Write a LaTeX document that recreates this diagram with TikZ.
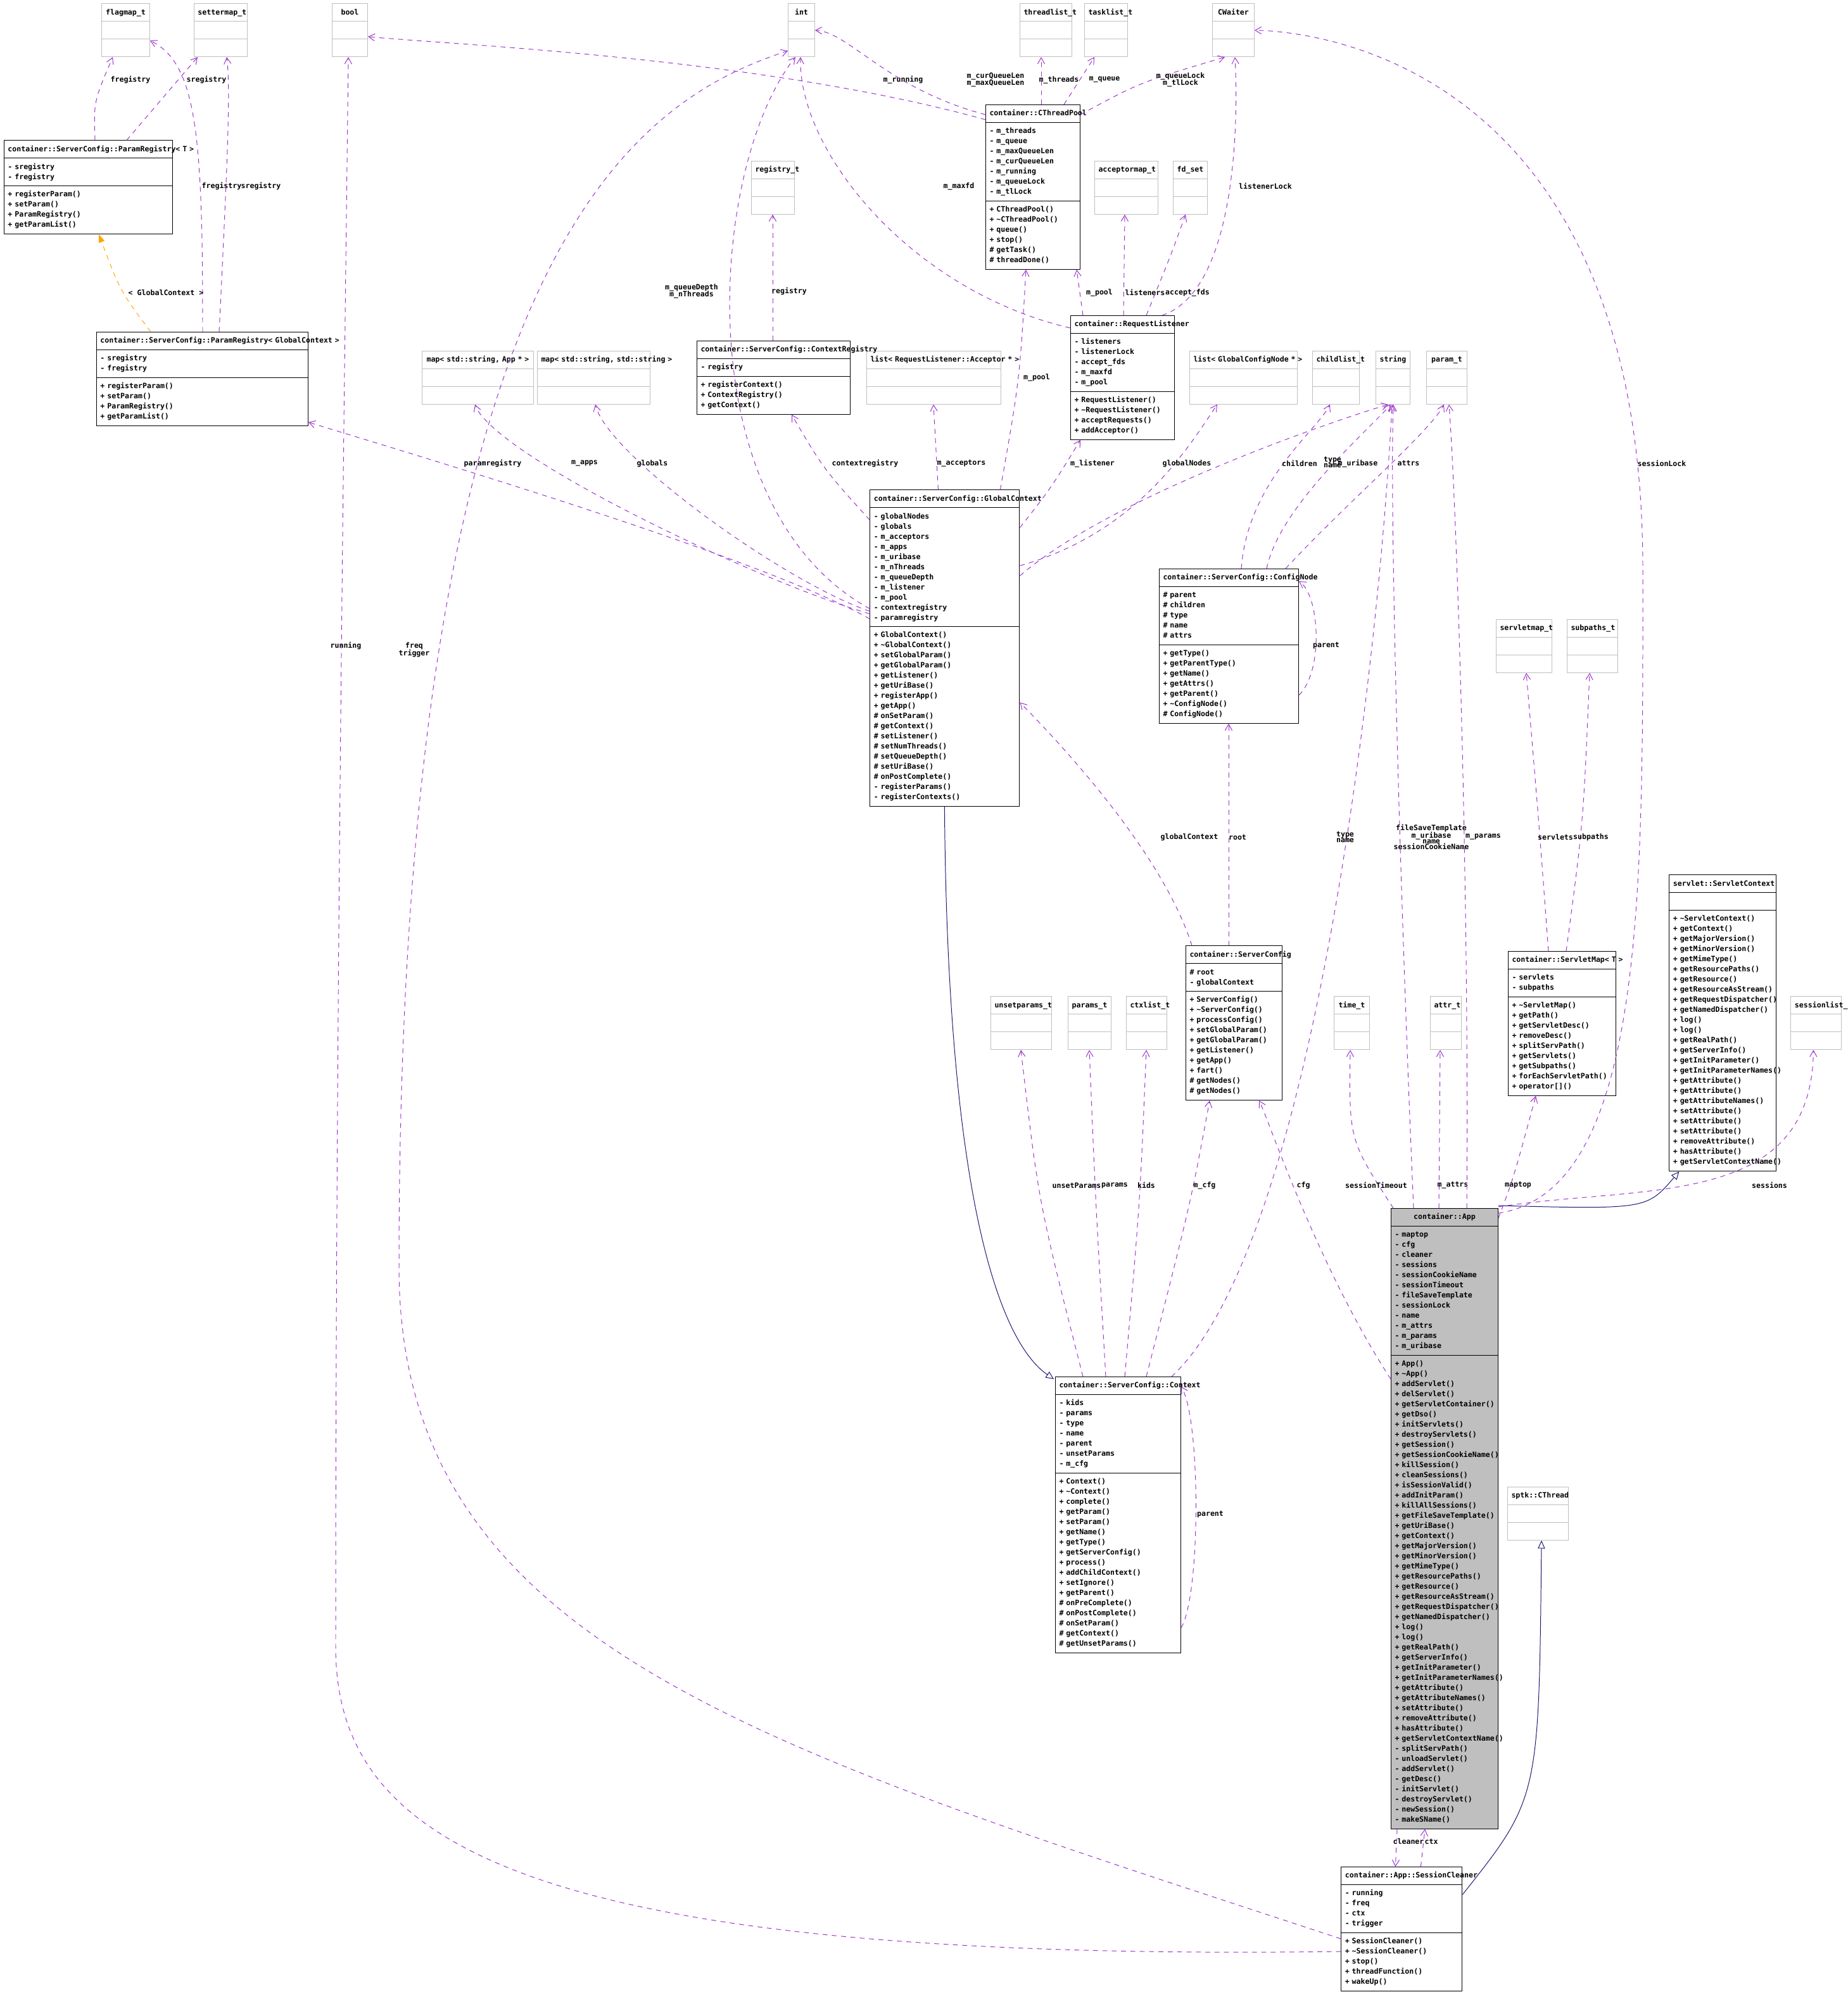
\documentclass[tikz,border=0pt]{standalone}
\usepackage{fontspec}
\setmonofont{DejaVu Sans Mono}
\usetikzlibrary{shapes.multipart,arrows.meta,calc}
\definecolor{usecol}{HTML}{9A32CD}
\definecolor{inhcol}{HTML}{191970}
\definecolor{tplcol}{HTML}{FFA500}
\definecolor{typecol}{HTML}{BFBFBF}
\hbadness=10000 \hfuzz=200pt
% font and line struts for the class boxes
\newcommand{\cfont}{\fontsize{8.24}{0}\selectfont\ttfamily\bfseries\baselineskip=0pt\lineskip=0pt\lineskiplimit=0pt}
\newcommand{\cstrut}{\rule[-3.4pt]{0pt}{11.38pt}}
\newcommand{\ctitle}[1]{{\centering\mbox{\cstrut#1}\par}}
\newcommand{\mem}[1]{\mbox{\cstrut#1}\par}
\newcommand{\tl}{\textasciitilde}
\tikzset{
  classbox/.style={rectangle split, rectangle split parts=3, draw=black, line width=0.7pt,
    inner xsep=0.15cm, inner ysep=3.9pt, anchor=north west, font=\cfont},
  typebox/.style={draw=typecol},
  use/.style={draw=usecol, line width=0.7pt, dash pattern=on 5.5pt off 5pt,
    -{Straight Barb[length=7pt,width=8pt]}},
  inherit/.style={draw=inhcol, line width=0.7pt, -{Triangle[open,length=9pt,width=8pt,fill=white]}},
  tmpl/.style={draw=tplcol, line width=0.7pt, dash pattern=on 5.5pt off 5pt,
    -{Triangle[length=9pt,width=7pt]}},
  lbl/.style={font=\cfont, inner sep=0pt, align=center}
}
% class box: [opts]{name}{x}{y}{width}{title}{attributes}{operations}
\newcommand{\umlclass}[8][]{%
  \pgfmathsetlengthmacro\tw{(#5-6)*0.05cm}%
  \node[classbox,#1,text width=\tw] (#2) at (#3,#4) {\ctitle{#6}\nodepart{two}#7\nodepart{three}#8};}
\newcommand{\typeclass}[5]{\umlclass[typebox]{#1}{#2}{#3}{#4}{#5}{\mem{}}{\mem{}}}

\begin{document}
\begin{tikzpicture}[x=0.05cm, y=-0.05cm]
\useasboundingbox (0,0) rectangle (1458.5,1573);

% plain types
\typeclass{flagmap}{80}{2.7}{38}{flagmap\_t}
\typeclass{settermap}{153}{2.7}{42}{settermap\_t}
\typeclass{boolT}{262}{2.7}{28}{bool}
\typeclass{intT}{622}{2.7}{21}{int}
\typeclass{threadlist}{805}{2.7}{41}{threadlist\_t}
\typeclass{tasklist}{856}{2.7}{34}{tasklist\_t}
\typeclass{cwaiter}{957}{2.7}{33}{CWaiter}
\typeclass{registryT}{593}{127}{34}{registry\_t}
\typeclass{acceptormap}{864}{127}{50}{acceptormap\_t}
\typeclass{fdset}{926}{127}{27}{fd\_set}
\typeclass{mapapps}{333}{277}{88}{map< std::string, App * >}
\typeclass{mapglobals}{424}{277}{89}{map< std::string, std::string >}
\typeclass{acclist}{684}{277}{106}{list< RequestListener::Acceptor * >}
\typeclass{nodelist}{939}{277}{85}{list< GlobalConfigNode * >}
\typeclass{childlist}{1036}{277}{37}{childlist\_t}
\typeclass{stringT}{1086}{277}{27}{string}
\typeclass{paramT}{1126}{277}{32}{param\_t}
\typeclass{servletmapT}{1181}{489}{44}{servletmap\_t}
\typeclass{subpathsT}{1237}{489}{40}{subpaths\_t}
\typeclass{unsetp}{782}{786.7}{48}{unsetparams\_t}
\typeclass{paramsT}{843}{786.7}{34}{params\_t}
\typeclass{ctxlist}{889}{786.7}{32}{ctxlist\_t}
\typeclass{timeT}{1053}{786.7}{28}{time\_t}
\typeclass{attrT}{1129}{786.7}{24.5}{attr\_t}
\typeclass{sesslist}{1413.7}{786.7}{40}{sessionlist\_t}
\typeclass{cthread}{1190}{1174}{48}{sptk::CThread}

% classes
\umlclass{prT}{3}{110.7}{133}{container::ServerConfig::ParamRegistry< T >}
  {\mem{- sregistry}\mem{- fregistry}}
  {\mem{+ registerParam()}\mem{+ setParam()}\mem{+ ParamRegistry()}\mem{+ getParamList()}}
\umlclass{prGC}{76}{262}{167}{container::ServerConfig::ParamRegistry< GlobalContext >}
  {\mem{- sregistry}\mem{- fregistry}}
  {\mem{+ registerParam()}\mem{+ setParam()}\mem{+ ParamRegistry()}\mem{+ getParamList()}}
\umlclass{pool}{778}{82.5}{74.5}{container::CThreadPool}
  {\mem{- m\_threads}\mem{- m\_queue}\mem{- m\_maxQueueLen}\mem{- m\_curQueueLen}\mem{- m\_running}\mem{- m\_queueLock}\mem{- m\_tlLock}}
  {\mem{+ CThreadPool()}\mem{+ \tl CThreadPool()}\mem{+ queue()}\mem{+ stop()}\mem{\# getTask()}\mem{\# threadDone()}}
\umlclass{listener}{845}{249}{82}{container::RequestListener}
  {\mem{- listeners}\mem{- listenerLock}\mem{- accept\_fds}\mem{- m\_maxfd}\mem{- m\_pool}}
  {\mem{+ RequestListener()}\mem{+ \tl RequestListener()}\mem{+ acceptRequests()}\mem{+ addAcceptor()}}
\umlclass{ctxreg}{550}{269}{121}{container::ServerConfig::ContextRegistry}
  {\mem{- registry}}
  {\mem{+ registerContext()}\mem{+ ContextRegistry()}\mem{+ getContext()}}
\umlclass{gctx}{686.7}{386.7}{118}{container::ServerConfig::GlobalContext}
  {\mem{- globalNodes}\mem{- globals}\mem{- m\_acceptors}\mem{- m\_apps}\mem{- m\_uribase}\mem{- m\_nThreads}\mem{- m\_queueDepth}\mem{- m\_listener}\mem{- m\_pool}\mem{- contextregistry}\mem{- paramregistry}}
  {\mem{+ GlobalContext()}\mem{+ \tl GlobalContext()}\mem{+ setGlobalParam()}\mem{+ getGlobalParam()}\mem{+ getListener()}\mem{+ getUriBase()}\mem{+ registerApp()}\mem{+ getApp()}\mem{\# onSetParam()}\mem{\# getContext()}\mem{\# setListener()}\mem{\# setNumThreads()}\mem{\# setQueueDepth()}\mem{\# setUriBase()}\mem{\# onPostComplete()}\mem{- registerParams()}\mem{- registerContexts()}}
\umlclass{cfgnode}{915}{449}{110}{container::ServerConfig::ConfigNode}
  {\mem{\# parent}\mem{\# children}\mem{\# type}\mem{\# name}\mem{\# attrs}}
  {\mem{+ getType()}\mem{+ getParentType()}\mem{+ getName()}\mem{+ getAttrs()}\mem{+ getParent()}\mem{+ \tl ConfigNode()}\mem{\# ConfigNode()}}
\umlclass{svctx}{1317.7}{690.7}{84.5}{servlet::ServletContext}
  {\mem{}}
  {\mem{+ \tl ServletContext()}\mem{+ getContext()}\mem{+ getMajorVersion()}\mem{+ getMinorVersion()}\mem{+ getMimeType()}\mem{+ getResourcePaths()}\mem{+ getResource()}\mem{+ getResourceAsStream()}\mem{+ getRequestDispatcher()}\mem{+ getNamedDispatcher()}\mem{+ log()}\mem{+ log()}\mem{+ getRealPath()}\mem{+ getServerInfo()}\mem{+ getInitParameter()}\mem{+ getInitParameterNames()}\mem{+ getAttribute()}\mem{+ getAttribute()}\mem{+ getAttributeNames()}\mem{+ setAttribute()}\mem{+ setAttribute()}\mem{+ setAttribute()}\mem{+ removeAttribute()}\mem{+ hasAttribute()}\mem{+ getServletContextName()}}
\umlclass{srvcfg}{936}{746.7}{76}{container::ServerConfig}
  {\mem{\# root}\mem{- globalContext}}
  {\mem{+ ServerConfig()}\mem{+ \tl ServerConfig()}\mem{+ processConfig()}\mem{+ setGlobalParam()}\mem{+ getGlobalParam()}\mem{+ getListener()}\mem{+ getApp()}\mem{+ fart()}\mem{\# getNodes()}\mem{\# getNodes()}}
\umlclass{svmap}{1190.5}{751}{85}{container::ServletMap< T >}
  {\mem{- servlets}\mem{- subpaths}}
  {\mem{+ \tl ServletMap()}\mem{+ getPath()}\mem{+ getServletDesc()}\mem{+ removeDesc()}\mem{+ splitServPath()}\mem{+ getServlets()}\mem{+ getSubpaths()}\mem{+ forEachServletPath()}\mem{+ operator[]()}}
\umlclass[fill=black!25]{app}{1098}{954}{84.5}{container::App}
  {\mem{- maptop}\mem{- cfg}\mem{- cleaner}\mem{- sessions}\mem{- sessionCookieName}\mem{- sessionTimeout}\mem{- fileSaveTemplate}\mem{- sessionLock}\mem{- name}\mem{- m\_attrs}\mem{- m\_params}\mem{- m\_uribase}}
  {\mem{+ App()}\mem{+ \tl App()}\mem{+ addServlet()}\mem{+ delServlet()}\mem{+ getServletContainer()}\mem{+ getDso()}\mem{+ initServlets()}\mem{+ destroyServlets()}\mem{+ getSession()}\mem{+ getSessionCookieName()}\mem{+ killSession()}\mem{+ cleanSessions()}\mem{+ isSessionValid()}\mem{+ addInitParam()}\mem{+ killAllSessions()}\mem{+ getFileSaveTemplate()}\mem{+ getUriBase()}\mem{+ getContext()}\mem{+ getMajorVersion()}\mem{+ getMinorVersion()}\mem{+ getMimeType()}\mem{+ getResourcePaths()}\mem{+ getResource()}\mem{+ getResourceAsStream()}\mem{+ getRequestDispatcher()}\mem{+ getNamedDispatcher()}\mem{+ log()}\mem{+ log()}\mem{+ getRealPath()}\mem{+ getServerInfo()}\mem{+ getInitParameter()}\mem{+ getInitParameterNames()}\mem{+ getAttribute()}\mem{+ getAttributeNames()}\mem{+ setAttribute()}\mem{+ removeAttribute()}\mem{+ hasAttribute()}\mem{+ getServletContextName()}\mem{- splitServPath()}\mem{- unloadServlet()}\mem{- addServlet()}\mem{- getDesc()}\mem{- initServlet()}\mem{- destroyServlet()}\mem{- newSession()}\mem{- makeSName()}}
\umlclass{ctx}{833}{1087}{99}{container::ServerConfig::Context}
  {\mem{- kids}\mem{- params}\mem{- type}\mem{- name}\mem{- parent}\mem{- unsetParams}\mem{- m\_cfg}}
  {\mem{+ Context()}\mem{+ \tl Context()}\mem{+ complete()}\mem{+ getParam()}\mem{+ setParam()}\mem{+ getName()}\mem{+ getType()}\mem{+ getServerConfig()}\mem{+ process()}\mem{+ addChildContext()}\mem{+ setIgnore()}\mem{+ getParent()}\mem{\# onPreComplete()}\mem{\# onPostComplete()}\mem{\# onSetParam()}\mem{\# getContext()}\mem{\# getUnsetParams()}}
\umlclass{cleaner}{1058.7}{1474}{95.5}{container::App::SessionCleaner}
  {\mem{- running}\mem{- freq}\mem{- ctx}\mem{- trigger}}
  {\mem{+ SessionCleaner()}\mem{+ \tl SessionCleaner()}\mem{+ stop()}\mem{+ threadFunction()}\mem{+ wakeUp()}}

% param registries
\draw[use] ($(prT.north west)+(72,0)$) node[lbl] at (103,63) {fregistry} .. controls (74,80) .. ($(flagmap.south west)+(9,0)$);
\draw[use] ($(prT.north west)+(97,0)$) node[lbl] at (163,63) {sregistry} -- ($(settermap.south west)+(3,0)$);
\draw[use] ($(prGC.north west)+(84,0)$) node[lbl] at (175,147) {fregistry} .. controls (160,110) and (156,50) .. ($(flagmap.south east)+(0,-13)$);
\draw[use] ($(prGC.north west)+(97,0)$) node[lbl] at (206,147) {sregistry} .. controls (180,120) and (182,70) .. ($(settermap.south west)+(26,0)$);
\draw[tmpl] ($(prGC.north west)+(43,0)$) node[lbl] at (131,231) {< GlobalContext >} .. controls (95,230) .. ($(prT.south west)+(75,0)$);

% global context
\draw[use] ($(gctx.north west)+(0,102)$) node[lbl] at (389,366) {paramregistry} .. controls (600,440) and (330,360) .. ($(prGC.south east)+(0,-3)$);
\draw[use] ($(gctx.north west)+(0,98)$) node[lbl] at (461.5,366) {m\_apps} .. controls (600,460) and (390,360) .. ($(mapapps.south west)+(42,0)$);
\draw[use] ($(gctx.north west)+(0,96)$) node[lbl] at (515,366) {globals} .. controls (620,460) and (480,360) .. ($(mapglobals.south west)+(46,0)$);
\draw[use] ($(gctx.north west)+(0,94)$) node[lbl] at (546,230) {m\_queueDepth\\m\_nThreads} .. controls (540,400) and (560,130) .. ($(intT.south west)+(6,0)$);
\draw[use] ($(gctx.north west)+(0,24)$) node[lbl] at (683,366) {contextregistry} .. controls (650,370) .. ($(ctxreg.south west)+(75,0)$);
\draw[use] ($(gctx.north west)+(54,0)$) node[lbl] at (759,366) {m\_acceptors} -- ($(acclist.south west)+(53,0)$);
\draw[use] ($(gctx.north west)+(103,0)$) node[lbl] at (818.5,298) {m\_pool} .. controls (805,300) .. ($(pool.south west)+(32,0)$);
\draw[use] ($(gctx.north east)+(0,30)$) node[lbl] at (862.5,366) {m\_listener} .. controls (830,385) .. ($(listener.south west)+(8,0)$);
\draw[use] ($(gctx.north east)+(0,60)$) node[lbl] at (937,366) {globalNodes} .. controls (900,420) and (940,350) .. ($(nodelist.south west)+(22,0)$);
\draw[use] ($(gctx.north east)+(0,68)$) node[lbl] at (1072,366) {m\_uribase} .. controls (880,390) and (1060,330) .. ($(stringT.south west)+(10,0)$);
\draw[use] ($(ctxreg.north west)+(60,0)$) node[lbl] at (623,230) {registry} -- ($(registryT.south west)+(17,0)$);

% thread pool and listener
\draw[use] ($(pool.north west)+(0,8)$) node[lbl] at (786,63) {m\_curQueueLen\\m\_maxQueueLen} .. controls (700,70) and (670,25) .. (intT.east);
\draw[use] ($(pool.north west)+(0,12)$) node[lbl] at (713,63) {m\_running} .. controls (600,45) and (350,35) .. ($(boolT.east)+(0,5)$);
\draw[use] ($(pool.north west)+(44,0)$) node[lbl] at (836,63) {m\_threads} -- ($(threadlist.south west)+(17,0)$);
\draw[use] ($(pool.north west)+(62,0)$) node[lbl] at (872,63) {m\_queue} -- ($(tasklist.south west)+(8,0)$);
\draw[use] ($(pool.north east)+(0,8)$) node[lbl] at (932,63) {m\_queueLock\\m\_tlLock} .. controls (900,65) .. ($(cwaiter.south west)+(10,0)$);
\draw[use] ($(listener.north west)+(0,10)$) node[lbl] at (757,147) {m\_maxfd} .. controls (720,230) and (630,120) .. ($(intT.south west)+(10,0)$);
\draw[use] ($(listener.north west)+(10,0)$) node[lbl] at (868,231) {m\_pool} -- ($(pool.south east)+(-3,0)$);
\draw[use] ($(listener.north west)+(42,0)$) node[lbl] at (904,231) {listeners} -- ($(acceptormap.south west)+(24,0)$);
\draw[use] ($(listener.north west)+(60,0)$) node[lbl] at (937.5,231) {accept\_fds} .. controls (925,200) .. ($(fdset.south west)+(10,0)$);
\draw[use] ($(listener.north east)+(-10,0)$) node[lbl] at (999,147) {listenerLock} .. controls (975,230) and (978,100) .. ($(cwaiter.south west)+(18,0)$);

% config nodes
\draw[use] ($(cfgnode.north west)+(65,0)$) node[lbl] at (1026,366) {children} .. controls (985,380) and (1040,340) .. ($(childlist.south west)+(14,0)$);
\draw[use] ($(cfgnode.north west)+(85,0)$) node[lbl] at (1052,365) {type\\name} .. controls (1010,400) and (1080,340) .. ($(stringT.south west)+(12,0)$);
\draw[use] ($(cfgnode.north west)+(100,0)$) node[lbl] at (1112,366) {attrs} .. controls (1060,400) and (1130,340) .. ($(paramT.south west)+(14,0)$);
\draw[use] ($(cfgnode.north east)+(0,100)$) node[lbl] at (1047,510) {parent} .. controls (1045,530) and (1042,470) .. ($(cfgnode.north east)+(0,10)$);
\draw[use] ($(srvcfg.north west)+(34,0)$) node[lbl] at (977,661) {root} -- ($(cfgnode.south west)+(55,0)$);
\draw[use] ($(srvcfg.north west)+(5,0)$) node[lbl] at (939,661) {globalContext} .. controls (920,680) and (850,600) .. ($(gctx.north east)+(0,168)$);
\draw[use] ($(svmap.north west)+(32,0)$) node[lbl] at (1228,661) {servlets} .. controls (1215,650) .. ($(servletmapT.south west)+(24,0)$);
\draw[use] ($(svmap.north west)+(46,0)$) node[lbl] at (1256,661) {subpaths} .. controls (1250,650) .. ($(subpathsT.south west)+(18,0)$);

% context
\draw[inherit] ($(gctx.south west)+(59,0)$) .. controls (748,950) and (790,1060) .. ($(ctx.north west)+(-1,2)$);
\draw[use] ($(ctx.north west)+(22,0)$) node[lbl] at (850,936) {unsetParams} .. controls (820,950) .. ($(unsetp.south west)+(24,0)$);
\draw[use] ($(ctx.north west)+(40,0)$) node[lbl] at (880,936) {params} .. controls (865,950) .. ($(paramsT.south west)+(17,0)$);
\draw[use] ($(ctx.north west)+(55,0)$) node[lbl] at (905,936) {kids} .. controls (900,950) .. ($(ctxlist.south west)+(16,0)$);
\draw[use] ($(ctx.north west)+(72,0)$) node[lbl] at (951,936) {m\_cfg} .. controls (940,950) .. ($(srvcfg.south west)+(19,0)$);
\draw[use] ($(ctx.north west)+(92,0)$) node[lbl] at (1062,661) {type\\name} .. controls (1040,980) and (1090,500) .. ($(stringT.south west)+(13,0)$);
\draw[use] ($(ctx.south east)+(0,-20)$) node[lbl] at (955.5,1196) {parent} .. controls (948,1260) and (948,1120) .. ($(ctx.north east)+(0,8)$);

% application
\draw[inherit] ($(app.north east)+(0,-2)$) .. controls (1300,955) .. ($(svctx.south west)+(8,0)$);
\draw[use] ($(app.north east)+(0,8)$) node[lbl] at (1198.5,936) {maptop} .. controls (1195,930) .. ($(svmap.south west)+(22,0)$);
\draw[use] ($(app.north west)+(0,135)$) node[lbl] at (1029,936) {cfg} .. controls (1040,1000) and (1000,880) .. ($(srvcfg.south west)+(58,0)$);
\draw[use] ($(app.north west)+(2,0)$) node[lbl] at (1086.5,936) {sessionTimeout} .. controls (1065,900) .. ($(timeT.south west)+(13,0)$);
\draw[use] ($(app.north west)+(38,0)$) node[lbl] at (1147,936) {m\_attrs} -- ($(attrT.south west)+(8,0)$);
\draw[use] ($(app.north west)+(18,0)$) node[lbl] at (1130,661) {fileSaveTemplate\\m\_uribase\\name\\sessionCookieName} .. controls (1105,700) and (1097,400) .. ($(stringT.south west)+(14,0)$);
\draw[use] ($(app.north west)+(60,0)$) node[lbl] at (1171,661) {m\_params} .. controls (1160,700) and (1150,400) .. ($(paramT.south west)+(18,0)$);
\draw[use] ($(app.north east)+(0,4)$) node[lbl] at (1312,366) {sessionLock} .. controls (1300,940) and (1297,700) .. (1297,450) .. controls (1297,60) and (1050,25) .. (cwaiter.east);
\draw[use] ($(app.north east)+(0,-1)$) node[lbl] at (1397,936) {sessions} .. controls (1300,935) and (1430,955) .. ($(sesslist.south west)+(18,0)$);
\draw[use] ($(app.south west)+(5,0)$) node[lbl] at (1112,1454) {cleaner} -- ($(cleaner.north west)+(43,0)$);
\draw[use] ($(cleaner.north west)+(63,0)$) node[lbl] at (1130,1454) {ctx} -- ($(app.south west)+(27,0)$);
\draw[inherit] ($(cleaner.north east)+(0,22)$) .. controls (1215,1420) .. ($(cthread.south west)+(27,0)$);
\draw[use] ($(cleaner.north west)+(0,67)$) node[lbl] at (273,510) {running} .. controls (400,1550) and (265,1450) .. (265,1300) .. controls (265,800) and (272,300) .. ($(boolT.south west)+(13,0)$);
\draw[use] ($(cleaner.north west)+(0,57)$) node[lbl] at (327,513) {freq\\trigger} .. controls (600,1380) and (315,1300) .. (315,1000) .. controls (315,200) and (500,80) .. ($(intT.south west)+(0,-5)$);
\end{tikzpicture}
\end{document}
